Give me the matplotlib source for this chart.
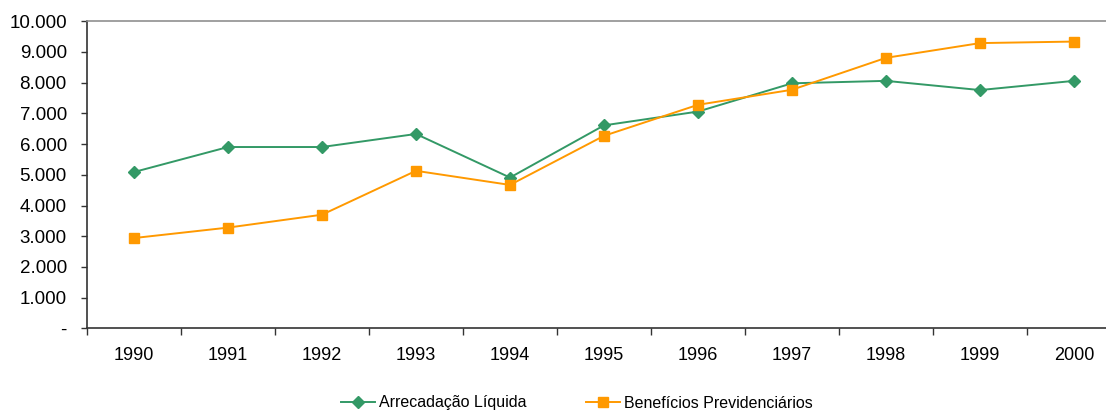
import matplotlib
matplotlib.use("Agg")
import matplotlib.pyplot as plt
from matplotlib.ticker import FixedLocator, FuncFormatter

years = ["1990", "1991", "1992", "1993", "1994", "1995", "1996", "1997", "1998", "1999", "2000"]
arrecadacao = [5090, 5905, 5905, 6330, 4910, 6610, 7060, 7980, 8060, 7760, 8060]
beneficios = [2940, 3280, 3700, 5130, 4670, 6270, 7280, 7770, 8810, 9290, 9340]
yticks = [0, 1000, 2000, 3000, 4000, 5000, 6000, 7000, 8000, 9000, 10000]

plt.rcParams['font.family'] = ['Liberation Sans', 'DejaVu Sans']

W, H = 1106, 412
fig = plt.figure(figsize=(W / 100, H / 100), dpi=100)
ax = fig.add_axes([87 / W, (H - 328.3) / H, 1034 / W, 307 / H])

x = list(range(len(years)))
green = "#339966"
orange = "#FF9900"
ax.plot(x, arrecadacao, color=green, lw=1.4, marker="D", ms=6.5, mec=green, mfc=green,
        label="Arrecadação Líquida", zorder=3)
ax.plot(x, beneficios, color=orange, lw=1.4, marker="s", ms=7.5, mec=orange, mfc=orange,
        label="Benefícios Previdenciários", zorder=3)

ax.set_xlim(-0.5, len(years) - 0.5)
ax.set_ylim(0, 10000)

ax.xaxis.set_major_locator(FixedLocator([i - 0.5 for i in range(len(years) + 1)]))
ax.xaxis.set_minor_locator(FixedLocator(x))
ax.set_xticklabels([""] * (len(years) + 1))
ax.set_xticklabels(years, minor=True)
ax.tick_params(axis="x", which="major", direction="out", length=4.8, width=1.0, color="#333333")
ax.tick_params(axis="x", which="minor", length=0, pad=13.5, labelsize=13)

ax.set_yticks(yticks)
ax.yaxis.set_major_formatter(FuncFormatter(
    lambda v, p: "-" if v == 0 else f"{int(v):,}".replace(",", ".")))
ax.tick_params(axis="y", direction="out", length=4.5, width=1.0, color="#333333", pad=10,
               labelsize=13.5)

for s in ["left", "bottom"]:
    ax.spines[s].set_color("#333333")
    ax.spines[s].set_linewidth(1.2)
ax.spines["top"].set_color("#909090")
ax.spines["top"].set_linewidth(1.2)
ax.spines["right"].set_visible(False)

fig.legend(loc="center left", bbox_to_anchor=(341 / W, 1 - 403 / H), ncol=2, frameon=False,
           fontsize=11.5, handlelength=2.15, handletextpad=0.25, columnspacing=3.7,
           borderpad=0, borderaxespad=0)

fig.savefig("out.png", dpi=100)
